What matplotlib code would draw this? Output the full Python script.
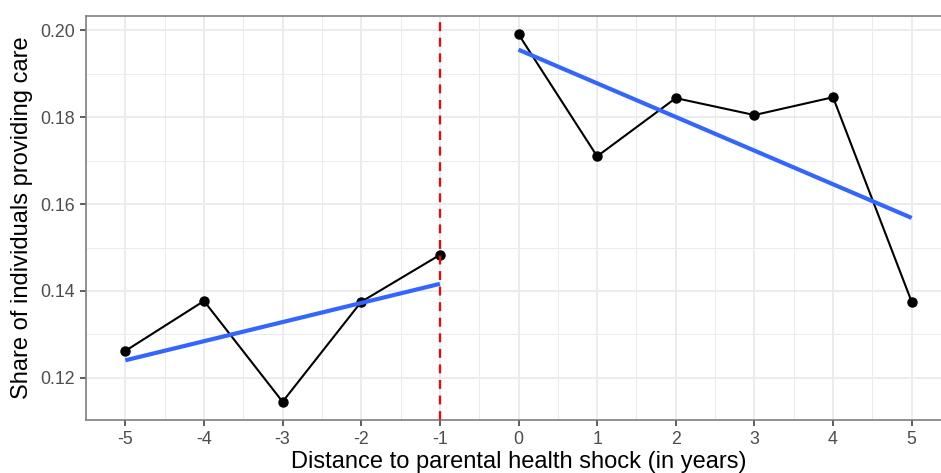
import numpy as np
import matplotlib
matplotlib.use("Agg")
import matplotlib.pyplot as plt
from matplotlib.ticker import MultipleLocator, FormatStrFormatter

plt.rcParams['font.family'] = ['Liberation Sans', 'DejaVu Sans']

# share of individuals providing care, by year relative to the shock
years_pre = np.array([-5, -4, -3, -2, -1])
care_pre = np.array([0.1262, 0.1377, 0.1145, 0.1375, 0.1483])
years_post = np.array([0, 1, 2, 3, 4, 5])
care_post = np.array([0.1991, 0.1710, 0.1844, 0.1805, 0.1846, 0.1375])

xticks = list(range(-5, 6))
yticks = [0.12, 0.14, 0.16, 0.18, 0.20]

fig = plt.figure(figsize=(9.41, 4.73), dpi=100)
# panel runs a bit past the right edge of the figure
ax = fig.add_axes([86/941, 53/473, 865/941, 404/473])

grid_col = '#EBEBEB'
ax.set_xlim(-5.5, 5.5)
ax.set_ylim(0.1103, 0.2033)
ax.set_xticks(xticks)
ax.set_xticklabels([str(t) for t in xticks])
ax.set_yticks(yticks)
ax.yaxis.set_major_formatter(FormatStrFormatter('%.2f'))
ax.xaxis.set_minor_locator(MultipleLocator(0.5))
ax.yaxis.set_minor_locator(MultipleLocator(0.01))
ax.grid(which='major', color=grid_col, lw=1.3, zorder=0)
ax.grid(which='minor', color=grid_col, lw=0.7, zorder=0)
ax.set_axisbelow(True)

for s in ax.spines.values():
    s.set_color('#7F7F7F')
    s.set_linewidth(1.2)
ax.tick_params(which='major', length=4, width=1.1, color='#333333',
               labelsize=12.8, labelcolor='#4D4D4D', pad=4)
ax.tick_params(which='minor', length=0)

# raw series
ax.plot(years_pre, care_pre, color='black', lw=1.5, marker='o', ms=6.5, zorder=3)
ax.plot(years_post, care_post, color='black', lw=1.5, marker='o', ms=6.5, zorder=3)

# linear fits on each side
for xs, ys in [(years_pre, care_pre), (years_post, care_post)]:
    b, a = np.polyfit(xs, ys, 1)
    ax.plot(xs, a + b * xs, color='#3366FF', lw=3, zorder=4, solid_capstyle='butt')

ax.axvline(-1, color='#FF0000', lw=1.6, ls=(0, (4, 3)), zorder=5)

ax.set_xlabel('Distance to parental health shock (in years)', fontsize=17, labelpad=2)
ax.set_ylabel('Share of individuals providing care', fontsize=17, labelpad=5)

fig.savefig('out.png', dpi=100)
